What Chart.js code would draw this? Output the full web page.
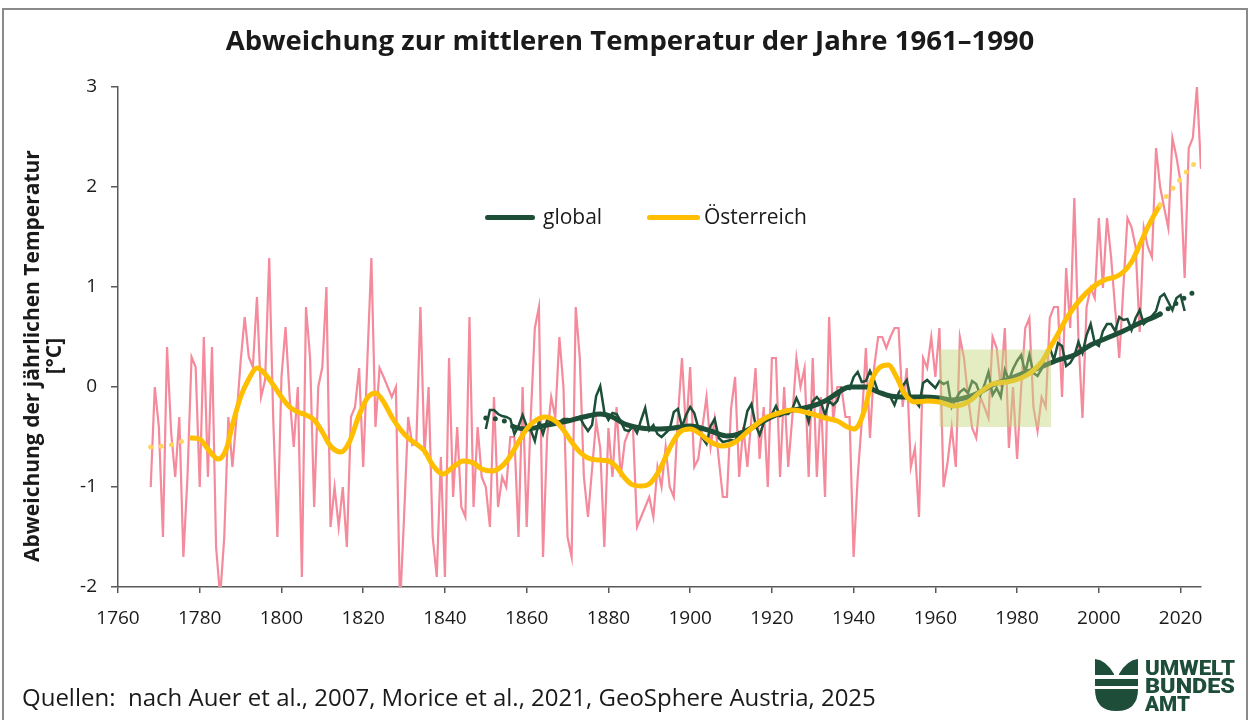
<!DOCTYPE html>
<html lang="de">
<head>
<meta charset="utf-8">
<title>Abweichung zur mittleren Temperatur der Jahre 1961–1990</title>
<script src="https://cdn.jsdelivr.net/npm/chart.js@4.4.1/dist/chart.umd.min.js"></script>
<style>
  body { margin: 0; background: #fff; font-family: 'Open Sans', sans-serif; color: #1a1a1a; }
  #wrap { position: relative; width: 1250px; height: 720px; overflow: hidden; background: #fff; }
  #frame { position: absolute; left: 2px; top: 8px; width: 1242px; height: 760px; border: 2px solid #8a8a8a; }
  #chart { position: absolute; left: 0; top: 0; }
  #title { position: absolute; left: 0; width: 1260px; top: 21px; text-align: center; font-weight: 700; font-size: 27.5px; }
  #ytitle { position: absolute; left: -208px; top: 334px; width: 500px; height: 44px; transform: rotate(-90deg);
            text-align: center; font-weight: 700; font-size: 21px; line-height: 22px; }
  .leg-line { position: absolute; height: 5px; border-radius: 3px; top: 215px; }
  .leg-text { position: absolute; top: 202px; font-size: 21px; }
  #source { position: absolute; left: 22px; top: 680px; font-size: 24px; }
  #logo { position: absolute; left: 1090px; top: 656px; }
</style>
</head>
<body>
<div id="wrap">
  <div id="frame"></div>
  <canvas id="chart" width="1250" height="720"></canvas>
  <div id="title">Abweichung zur mittleren Temperatur der Jahre 1961–1990</div>
  <div id="ytitle">Abweichung der jährlichen Temperatur<br>[°C]</div>
  <div class="leg-line" style="left:485px;width:50px;background:#1d4f38"></div>
  <div class="leg-text" style="left:543px">global</div>
  <div class="leg-line" style="left:647px;width:53px;background:#ffbe00"></div>
  <div class="leg-text" style="left:704px">Österreich</div>
  <div id="source">Quellen:&nbsp; nach Auer et al., 2007, Morice et al., 2021, GeoSphere Austria, 2025</div>
  <svg id="logo" width="150" height="60" viewBox="0 0 150 60">
    <g fill="#1e4d3a">
      <path d="M5 3 Q16 4 24 18 L24 19 L5 19 Z"/>
      <path d="M48 3 Q37 4 29 18 L29 19 L48 19 Z"/>
      <rect x="5" y="23" width="43" height="7"/>
      <path d="M5 33 L48 33 Q48 55 26.5 55 Q5 55 5 33 Z"/>
      <text x="55" y="19" font-family="Roboto, sans-serif" font-weight="900" font-size="20" textLength="90" lengthAdjust="spacingAndGlyphs">UMWELT</text>
      <text x="55" y="37" font-family="Roboto, sans-serif" font-weight="900" font-size="20" textLength="90" lengthAdjust="spacingAndGlyphs">BUNDES</text>
      <text x="55" y="55" font-family="Roboto, sans-serif" font-weight="900" font-size="20" textLength="45" lengthAdjust="spacingAndGlyphs">AMT</text>
    </g>
  </svg>
</div>
<script>
// Jahresabweichung Österreich (°C), 1768–2025
const austriaFirstYear = 1768;
const austriaAnnual = [
  -1.0, 0.0,
  -0.4, -1.5, 0.4, -0.45, -0.9, -0.3, -1.7, -0.9, 0.3, 0.2,
  -1.0, 0.5, -0.9, 0.4, -1.6, -2.1, -1.5, -0.3, -0.8, -0.3,
  0.25, 0.7, 0.3, 0.2, 0.9, -0.1, 0.07, 1.29, -0.34, -1.5,
  0.1, 0.6, -0.1, -0.6, 0.0, -1.9, 0.8, 0.29, -1.2, 0.0,
  0.2, 1.0, -1.4, -1.0, -1.4, -1.0, -1.6, -0.3, -0.2, 0.19,
  -0.8, 0.25, 1.29, -0.4, 0.19, 0.1, 0.0, -0.1, 0.0, -2.2,
  -1.3, -0.3, -0.58, -0.56, 0.8, -0.68, 0.0, -1.5, -1.9, -0.7,
  -1.9, 0.29, -1.1, -0.4, -1.2, -1.3, 0.7, -1.2, -0.4, -0.9,
  -1.0, -1.4, -0.1, -1.2, -0.9, -1.0, -0.5, -0.5, -1.5, 0.0,
  -1.4, -0.3, 0.59, 0.8, -1.7, -0.5, -0.1, -0.3, 0.5, 0.0,
  -1.5, -1.7, 0.8, 0.29, -0.9, -1.3, -0.82, -0.34, -0.61, -1.6,
  -0.41, -0.9, -0.2, -0.9, -0.55, -0.44, -0.4, -1.4, -1.3, -1.2,
  -1.1, -1.3, -0.8, -1.0, -0.6, -1.0, -1.1, -0.3, 0.29, -0.45,
  0.2, -0.8, -0.72, -0.4, -0.1, -0.6, -0.32, -0.72, -1.1, -1.1,
  -0.22, 0.1, -0.9, -0.4, -0.8, -0.31, 0.19, -0.72, -0.2, -1.0,
  0.29, 0.29, -0.9, 0.0, -0.8, -0.3, 0.29, 0.0, 0.19, -0.9,
  0.29, -0.9, -0.1, -1.1, 0.7, -0.34, 0.0, 0.0, -0.3, -0.3,
  -1.7, -0.9, -0.34, 0.39, -0.51, 0.19, 0.5, 0.5, 0.39, 0.5,
  0.59, 0.59, -0.2, 0.19, -0.8, -0.61, -1.3, 0.29, 0.19, 0.5,
  0.1, 0.59, -1.0, -0.75, -0.4, -0.8, 0.5, 0.29, -0.1, -0.41,
  -0.51, -0.1, -0.2, -0.31, 0.5, 0.39, 0.0, 0.59, -0.61, 0.0,
  -0.72, 0.0, 0.59, 0.69, -0.2, -0.44, -0.1, -0.2, 0.69, 0.8,
  0.8, -0.1, 1.19, 0.59, 1.89, 0.5, -0.31, 0.8, 0.99, 0.89,
  1.69, 0.99, 1.69, 1.3, 0.78, 0.29, 0.99, 1.69, 1.6, 1.4,
  0.55, 1.59, 1.4, 1.3, 2.39, 2.0, 1.79, 1.59, 2.49, 2.3,
  2.05, 1.09, 2.39, 2.49, 3.0, 2.18
];

// Jahresabweichung global (°C), 1850–2021
const globalFirstYear = 1850;
const globalAnnual = [
  -0.42, -0.23, -0.23, -0.27, -0.29, -0.30, -0.32, -0.47, -0.39, -0.28,
  -0.39, -0.43, -0.54, -0.34, -0.47, -0.33, -0.34, -0.36, -0.35, -0.32,
  -0.32, -0.33, -0.31, -0.30, -0.38, -0.44, -0.38, -0.09, 0.01, -0.25,
  -0.33, -0.26, -0.27, -0.34, -0.43, -0.44, -0.39, -0.46, -0.33, -0.21,
  -0.43, -0.38, -0.47, -0.50, -0.46, -0.42, -0.25, -0.22, -0.40, -0.28,
  -0.20, -0.26, -0.41, -0.51, -0.57, -0.39, -0.32, -0.51, -0.55, -0.54,
  -0.53, -0.54, -0.45, -0.44, -0.24, -0.17, -0.38, -0.48, -0.36, -0.29,
  -0.27, -0.19, -0.29, -0.27, -0.27, -0.22, -0.11, -0.20, -0.21, -0.35,
  -0.14, -0.10, -0.15, -0.28, -0.14, -0.18, -0.14, -0.01, -0.01, -0.02,
  0.10, 0.15, 0.05, 0.06, 0.16, 0.07, -0.05, -0.06, -0.09, -0.10,
  -0.18, -0.06, 0.01, 0.07, -0.12, -0.14, -0.19, 0.04, 0.07, 0.03,
  -0.01, 0.06, 0.03, 0.05, -0.20, -0.12, -0.05, -0.02, -0.06, 0.06,
  0.03, -0.08, 0.02, 0.15, -0.08, -0.01, -0.10, 0.17, 0.07, 0.18,
  0.26, 0.32, 0.14, 0.32, 0.14, 0.11, 0.18, 0.33, 0.39, 0.27,
  0.44, 0.41, 0.21, 0.24, 0.31, 0.45, 0.34, 0.52, 0.63, 0.44,
  0.41, 0.56, 0.63, 0.63, 0.56, 0.70, 0.67, 0.68, 0.57, 0.69,
  0.77, 0.63, 0.67, 0.71, 0.76, 0.90, 0.93, 0.85, 0.77, 0.89,
  0.92, 0.76
];

// geglättete Verläufe (°C)
const austriaTrendYears = [
  1768, 1771, 1774, 1778, 1780, 1782, 1784.5, 1786.5, 1788, 1790,
  1792, 1794, 1796, 1798, 1800, 1802, 1804, 1806, 1808, 1810,
  1812, 1814.5, 1816.5, 1819, 1821, 1823, 1825, 1827, 1829, 1831,
  1833, 1835, 1837, 1839.5, 1842, 1844.5, 1847, 1849, 1851.5, 1854,
  1856, 1858, 1860, 1862, 1864.5, 1867, 1869, 1871, 1873, 1875,
  1877.5, 1880, 1882, 1884, 1886, 1888, 1890, 1892.5, 1895, 1897.5,
  1900, 1902.5, 1905, 1908, 1911, 1914.5, 1918, 1921, 1925, 1929,
  1933, 1936, 1938.5, 1940, 1941.5, 1943, 1944.5, 1946.5, 1948.5, 1950.5,
  1952.5, 1955, 1958, 1961, 1964.5, 1968, 1971, 1974, 1977.5, 1981,
  1983.5, 1986, 1988, 1990, 1992, 1994, 1996, 1998, 2000, 2002,
  2004, 2006, 2008, 2010, 2012, 2015, 2017, 2019, 2021, 2024
];
const austriaTrend = [
  -0.60, -0.59, -0.57, -0.51, -0.52, -0.62, -0.72, -0.62, -0.38, -0.10,
  0.08, 0.19, 0.13, 0.02, -0.10, -0.20, -0.25, -0.28, -0.33, -0.45,
  -0.59, -0.65, -0.56, -0.28, -0.11, -0.06, -0.15, -0.30, -0.42, -0.51,
  -0.57, -0.64, -0.78, -0.87, -0.80, -0.74, -0.76, -0.82, -0.84, -0.79,
  -0.69, -0.55, -0.42, -0.34, -0.30, -0.34, -0.43, -0.55, -0.65, -0.71,
  -0.73, -0.74, -0.80, -0.91, -0.98, -0.99, -0.97, -0.83, -0.61, -0.45,
  -0.42, -0.47, -0.55, -0.59, -0.55, -0.43, -0.32, -0.27, -0.23, -0.26,
  -0.31, -0.34, -0.40, -0.42, -0.36, -0.18, 0.07, 0.20, 0.22, 0.10,
  -0.07, -0.15, -0.14, -0.15, -0.19, -0.15, -0.05, 0.03, 0.05, 0.09,
  0.15, 0.25, 0.39, 0.53, 0.68, 0.80, 0.90, 0.98, 1.04, 1.08,
  1.10, 1.15, 1.25, 1.42, 1.60, 1.82, 1.93, 2.03, 2.13, 2.26
];
const austriaTrendSolid = [1778, 2015];

const globalTrendYears = [
  1850, 1854, 1857, 1860, 1865, 1870, 1875, 1878, 1881, 1884,
  1888, 1892, 1896, 1900, 1905, 1909, 1912, 1915, 1918, 1921,
  1924, 1929, 1933, 1936, 1939, 1943, 1946, 1949, 1953, 1957,
  1961, 1964, 1968, 1971, 1974, 1978, 1981, 1984, 1987, 1990,
  1994, 1998, 2002, 2006, 2010, 2015, 2019, 2024
];
const globalTrend = [
  -0.31, -0.33, -0.40, -0.42, -0.38, -0.34, -0.29, -0.27, -0.30, -0.37,
  -0.41, -0.42, -0.41, -0.39, -0.44, -0.49, -0.47, -0.41, -0.34, -0.28,
  -0.24, -0.20, -0.14, -0.06, 0.00, 0.00, -0.05, -0.09, -0.10, -0.10,
  -0.11, -0.13, -0.10, -0.05, 0.02, 0.08, 0.13, 0.17, 0.22, 0.27,
  0.32, 0.42, 0.49, 0.56, 0.64, 0.73, 0.84, 0.97
];
const globalTrendSolid = [1857, 2015];

// Referenzperiode (Kasten)
const refPeriod = [1961, 1988.3];
const refBand = [-0.4, 0.375];

const xTicks = [1760, 1780, 1800, 1820, 1840, 1860, 1880, 1900, 1920, 1940, 1960, 1980, 2000, 2020];

const PINK = '#f48a9b';
const GREEN = '#1d4f38';
const YELLOW = '#ffbe00';
const YELLOW_DOTS = '#ffd55e';

const toPoints = (first, vals) => vals.map((v, i) => ({ x: first + i, y: v }));
const toXY = (xs, vals) => vals.map((v, i) => ({ x: xs[i], y: v }));

function trendSegment(solid, solidColor, dotColor, gap) {
  const inside = c => c.p0.parsed.x >= solid[0] && c.p1.parsed.x <= solid[1];
  return {
    borderColor: c => inside(c) ? solidColor : dotColor,
    borderDash: c => inside(c) ? [] : [0, gap]
  };
}

const refBox = {
  id: 'refBox',
  afterDatasetsDraw(chart) {
    const { ctx, scales: { x, y } } = chart;
    const x0 = x.getPixelForValue(refPeriod[0]);
    const x1 = x.getPixelForValue(refPeriod[1]);
    const y0 = y.getPixelForValue(refBand[1]);
    const y1 = y.getPixelForValue(refBand[0]);
    ctx.save();
    ctx.fillStyle = 'rgba(196,214,120,0.45)';
    ctx.fillRect(x0, y0, x1 - x0, y1 - y0);
    ctx.restore();
  }
};

const tickFont = { family: "'Open Sans', sans-serif", size: 19 };

new Chart(document.getElementById('chart'), {
  type: 'line',
  data: {
    datasets: [
      {
        label: 'Österreich',
        data: toXY(austriaTrendYears, austriaTrend),
        borderColor: YELLOW,
        borderWidth: 5,
        borderCapStyle: 'round',
        cubicInterpolationMode: 'monotone',
        segment: trendSegment(austriaTrendSolid, YELLOW, YELLOW_DOTS, 10.5),
        pointRadius: 0,
        order: 1
      },
      {
        label: 'global',
        data: toXY(globalTrendYears, globalTrend),
        borderColor: GREEN,
        borderWidth: 5,
        borderCapStyle: 'round',
        cubicInterpolationMode: 'monotone',
        segment: trendSegment(globalTrendSolid, GREEN, GREEN, 9.5),
        pointRadius: 0,
        order: 2
      },
      {
        label: 'global jährlich',
        data: toPoints(globalFirstYear, globalAnnual),
        borderColor: GREEN,
        borderWidth: 2.5,
        pointRadius: 0,
        tension: 0,
        order: 3
      },
      {
        label: 'Österreich jährlich',
        data: toPoints(austriaFirstYear, austriaAnnual),
        borderColor: PINK,
        borderWidth: 2.2,
        pointRadius: 0,
        tension: 0,
        order: 4
      }
    ]
  },
  options: {
    responsive: false,
    animation: false,
    layout: { padding: { left: 0, right: 49, top: 87, bottom: 93 } },
    plugins: { legend: { display: false }, tooltip: { enabled: false } },
    scales: {
      x: {
        type: 'linear',
        min: 1760,
        max: 2025,
        afterFit: s => { s.height = 40; },
        afterBuildTicks: s => { s.ticks = xTicks.map(v => ({ value: v })); },
        ticks: { font: tickFont, color: '#1a1a1a', padding: 14, maxRotation: 0, callback: v => String(v) },
        grid: { drawOnChartArea: false, tickLength: 6, color: '#595959', lineWidth: 1.5 },
        border: { color: '#595959', width: 1.5 }
      },
      y: {
        min: -2,
        max: 3,
        afterFit: s => { s.width = 118; },
        ticks: { stepSize: 1, font: tickFont, color: '#1a1a1a', padding: 14 },
        grid: { drawOnChartArea: false, tickLength: 7, color: '#595959', lineWidth: 1.5 },
        border: { color: '#595959', width: 1.5 }
      }
    }
  },
  plugins: [refBox]
});
</script>
</body>
</html>
